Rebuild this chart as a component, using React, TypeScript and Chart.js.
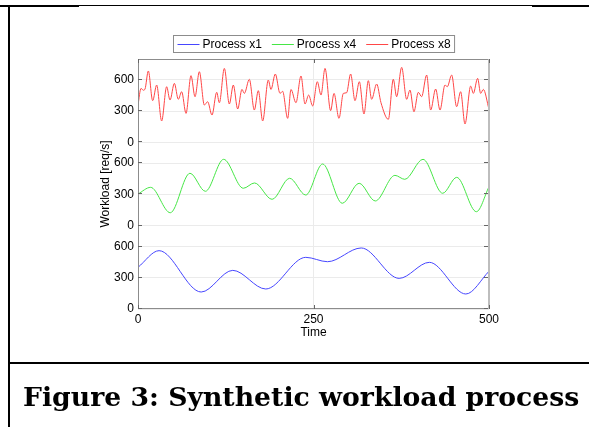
import React, { useEffect, useRef } from 'react';
import { Chart, registerables } from 'chart.js';
Chart.register(...registerables);

const seriesLabels = ['Process x1', 'Process x4', 'Process x8'];
const seriesColors = ['#4646ff', '#46e646', '#ff4646'];
const bandHeight = 800;
const bandTicks = [0, 300, 600];
const xTicks = [0, 250, 500];

const x1Time = [0, 30, 90, 135, 182, 239, 270, 318, 372, 415, 467, 500];
const x1Load = [400, 560, 163, 371, 192, 496, 454, 586, 294, 448, 144, 362];

const x4Time = [0, 18, 46, 74, 96, 122, 150, 166, 191, 216, 239, 263, 291, 315, 338, 366, 380, 406, 434, 454, 482, 500];
const x4Load = [304, 368, 124, 503, 330, 637, 359, 410, 253, 455, 294, 592, 215, 407, 237, 483, 445, 637, 311, 464, 134, 374];

const x8Time = [
  0, 4.3, 7.6, 10, 14.7, 20.9, 26.6, 33.7, 40.8, 45.6,
  51.8, 57.4, 62.2, 68.4, 75.5, 81.2, 87.4, 94.5, 99.2, 105.4,
  112.1, 115.9, 123, 130.1, 135.8, 142, 148.1, 151.5, 158.6, 165.7,
  171.4, 177.6, 185.6, 189.4, 195.6, 202.3, 206, 213.2, 217.9, 225,
  232.2, 237.9, 243.1, 248.8, 255.4, 260.7, 266.4, 274.4, 279.2, 286.3,
  292.5, 297.2, 302.9, 309.1, 315.3, 321.9, 328.1, 332.8, 340, 346.1,
  356.6, 363.7, 368.4, 375.6, 382.7, 387.4, 393.1, 399.3, 404, 411.2,
  416.9, 424, 430.2, 437.3, 440.6, 446.8, 453.9, 459.6, 465.8, 473.9,
  477.7, 483.8, 488.1, 491.9, 500,
];
const x8Load = [
  358, 518, 500, 512, 685, 400, 550, 205, 534, 406,
  566, 413, 486, 278, 640, 438, 678, 358, 390, 262,
  480, 380, 710, 368, 550, 320, 508, 470, 605, 310,
  496, 205, 598, 508, 656, 470, 490, 230, 508, 380,
  637, 368, 454, 349, 582, 454, 710, 304, 470, 230,
  470, 476, 656, 400, 582, 272, 592, 413, 560, 381,
  221, 605, 438, 720, 413, 502, 294, 480, 438, 646,
  310, 512, 310, 550, 534, 646, 342, 486, 176, 540,
  470, 614, 470, 508, 317,
];

const seriesTimes = [x1Time, x4Time, x8Time];
const seriesLoads = [x1Load, x4Load, x8Load];

const FONT = '"Liberation Sans", Arial, sans-serif';
const yTickValues = [0, 1, 2].flatMap((b) => bandTicks.map((t) => t + b * bandHeight));

const framePlugin = {
  id: 'frame',
  afterDatasetsDraw(chart: any) {
    const { ctx, chartArea } = chart;
    const { left, right, top, bottom } = chartArea;
    const xs = chart.scales.x;
    const ys = chart.scales.y;
    ctx.save();
    ctx.strokeStyle = '#8c8c8c';
    ctx.lineWidth = 1;
    ctx.beginPath();
    ctx.moveTo(left + 0.5, top + 0.5);
    ctx.lineTo(right - 0.5, top + 0.5);
    ctx.moveTo(left + 0.5, top);
    ctx.lineTo(left + 0.5, bottom - 0.5);
    ctx.lineTo(right, bottom - 0.5);
    ctx.stroke();
    ctx.strokeStyle = '#bdbdbd';
    ctx.lineWidth = 2;
    ctx.beginPath();
    ctx.moveTo(right, top);
    ctx.lineTo(right, bottom);
    ctx.stroke();
    ctx.strokeStyle = '#666';
    ctx.lineWidth = 1;
    ctx.beginPath();
    yTickValues.forEach((v) => {
      const y = Math.round(ys.getPixelForValue(v)) - 0.5;
      ctx.moveTo(left, y);
      ctx.lineTo(left + 4, y);
      ctx.moveTo(right - 1, y);
      ctx.lineTo(right - 5, y);
    });
    xTicks.forEach((t) => {
      const x = Math.round(xs.getPixelForValue(t)) + 0.5;
      ctx.moveTo(x, bottom);
      ctx.lineTo(x, bottom - 4);
      ctx.moveTo(x, top);
      ctx.lineTo(x, top + 4);
    });
    ctx.stroke();
    ctx.restore();
  },
  afterDraw(chart: any) {
    const { ctx, chartArea } = chart;
    ctx.save();
    ctx.font = '12px ' + FONT;
    const lineLen = 22;
    const gap = 3;
    const itemGap = 10;
    const pad = 4;
    const widths = seriesLabels.map((l) => ctx.measureText(l).width);
    const total = pad * 2 + widths.reduce((a, w) => a + lineLen + gap + w, 0) + itemGap * (seriesLabels.length - 1);
    const cx = (chartArea.left + chartArea.right) / 2;
    const bx = Math.round(cx - total / 2) + 0.5;
    const by = 35.5;
    const bh = 17;
    ctx.fillStyle = '#fff';
    ctx.fillRect(bx, by, total, bh);
    ctx.strokeStyle = '#8c8c8c';
    ctx.lineWidth = 1;
    ctx.strokeRect(bx, by, total, bh);
    let x = bx + pad;
    const cy = by + bh / 2;
    seriesLabels.forEach((l, i) => {
      ctx.strokeStyle = seriesColors[i];
      ctx.beginPath();
      ctx.moveTo(x, Math.round(cy) + 0.5);
      ctx.lineTo(x + lineLen, Math.round(cy) + 0.5);
      ctx.stroke();
      x += lineLen + gap;
      ctx.fillStyle = '#000';
      ctx.textBaseline = 'middle';
      ctx.fillText(l, x, cy + 0.5);
      x += widths[i] + itemGap;
    });
    ctx.restore();
  },
};

export default function App() {
  const ref = useRef<HTMLCanvasElement>(null);
  useEffect(() => {
    const datasets = seriesLabels.map((label, i) => ({
      label,
      data: seriesTimes[i].map((t, k) => ({ x: t, y: seriesLoads[i][k] + i * bandHeight })),
      borderColor: seriesColors[i],
      backgroundColor: seriesColors[i],
      borderWidth: 1,
      pointRadius: 0,
      cubicInterpolationMode: 'monotone' as const,
      fill: false,
    }));
    const chart = new Chart(ref.current!, {
      type: 'line',
      data: { datasets },
      plugins: [framePlugin],
      options: {
        animation: false,
        responsive: false,
        devicePixelRatio: 1,
        layout: { padding: { left: 88, right: 100, top: 59, bottom: 78 } },
        plugins: { legend: { display: false }, tooltip: { enabled: false } },
        scales: {
          x: {
            type: 'linear',
            min: 0,
            max: 500,
            afterBuildTicks: (s: any) => {
              s.ticks = xTicks.map((v) => ({ value: v }));
            },
            afterFit: (s: any) => {
              s.height = 40;
            },
            grid: { color: '#ebebeb', drawTicks: false },
            border: { display: false },
            ticks: { color: '#000', font: { family: FONT, size: 12 }, padding: 3, maxRotation: 0 },
            title: { display: true, text: 'Time', color: '#000', font: { family: FONT, size: 12 }, padding: { top: 0, bottom: 9 } },
          },
          y: {
            type: 'linear',
            min: 0,
            max: bandHeight * 3,
            afterBuildTicks: (s: any) => {
              s.ticks = yTickValues.map((v) => ({ value: v }));
            },
            afterFit: (s: any) => {
              s.width = 50;
            },
            grid: { color: '#ebebeb', drawTicks: false },
            border: { display: false },
            ticks: {
              color: '#000',
              font: { family: FONT, size: 12 },
              padding: 4,
              callback: (v: any) => String(Number(v) % bandHeight),
            },
            title: { display: true, text: 'Workload [req/s]', color: '#000', font: { family: FONT, size: 12 }, padding: { top: 10, bottom: 0 } },
          },
        },
      },
    });
    return () => chart.destroy();
  }, []);

  const line = (s: React.CSSProperties) => <div style={{ position: 'absolute', background: '#000', ...s }} />;

  return (
    <div style={{ position: 'absolute', left: 0, top: 0, width: 589, height: 427, background: '#fff', overflow: 'hidden' }}>
      <canvas ref={ref} width={589} height={427} style={{ position: 'absolute', left: 0, top: 0, width: 589, height: 427 }} />
      {line({ left: 0, top: 5, width: 79, height: 2 })}
      {line({ left: 79, top: 5, width: 453, height: 1 })}
      {line({ left: 532, top: 5, width: 57, height: 2 })}
      {line({ left: 8, top: 5, width: 2, height: 422 })}
      {line({ left: 8, top: 362, width: 581, height: 2 })}
      <div
        style={{
          position: 'absolute',
          left: 23,
          top: 382,
          font: 'bold 26.7px "DejaVu Serif", Georgia, serif',
          lineHeight: '30px',
          whiteSpace: 'nowrap',
          color: '#000',
        }}
      >
        Figure 3: Synthetic workload process
      </div>
    </div>
  );
}
